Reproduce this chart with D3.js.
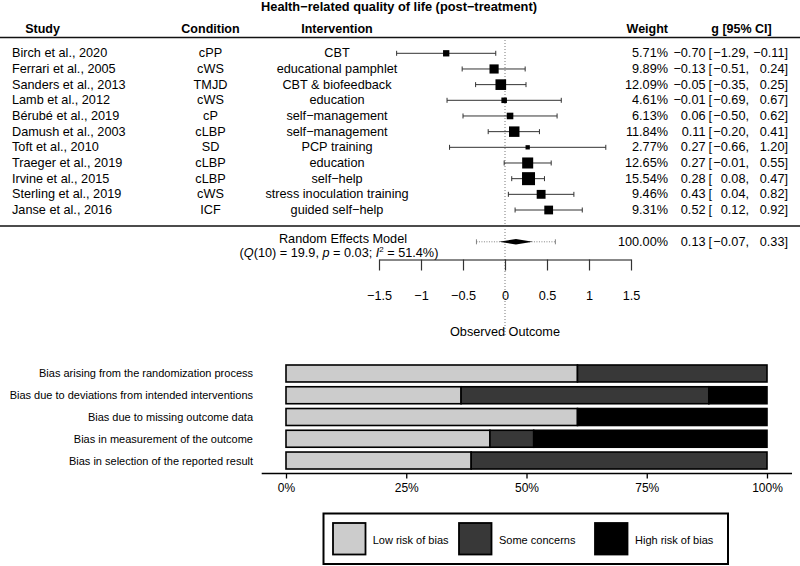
<!DOCTYPE html>
<html><head><meta charset="utf-8">
<script src="https://cdn.jsdelivr.net/npm/d3@7"></script>
<style>
html,body{margin:0;padding:0;background:#fff;}
svg{display:block;font-family:"Liberation Sans",Arial,Helvetica,sans-serif;}
</style></head>
<body><svg id="chart" width="800" height="566"></svg>
<script>
// ---------- DATA ----------
const title = "Health\u2212related quality of life (post\u2212treatment)";
const studies = ["Birch et al., 2020","Ferrari et al., 2005","Sanders et al., 2013","Lamb et al., 2012","Bérubé et al., 2019","Damush et al., 2003","Toft et al., 2010","Traeger et al., 2019","Irvine et al., 2015","Sterling et al., 2019","Janse et al., 2016"];
const conditions = ["cPP","cWS","TMJD","cWS","cP","cLBP","SD","cLBP","cLBP","cWS","ICF"];
const interventions = ["CBT","educational pamphlet","CBT & biofeedback","education","self\u2212management","self\u2212management","PCP training","education","self\u2212help","stress inoculation training","guided self\u2212help"];
const weights = [5.71,9.89,12.09,4.61,6.13,11.84,2.77,12.65,15.54,9.46,9.31];
const estimates = [-0.70,-0.13,-0.05,-0.01,0.06,0.11,0.27,0.27,0.28,0.43,0.52];
const lowers = [-1.29,-0.51,-0.35,-0.69,-0.50,-0.20,-0.66,-0.01,0.08,0.04,0.12];
const uppers = [-0.11,0.24,0.25,0.67,0.62,0.41,1.20,0.55,0.47,0.82,0.92];
const modelLabel = "Random Effects Model";
const modelEst = 0.13, modelLower = -0.07, modelUpper = 0.33;
const modelPILower = -0.34, modelPIUpper = 0.60;
const modelWeight = 100.00;
const forestTicks = [-1.5,-1,-0.5,0,0.5,1,1.5];
const forestXLabel = "Observed Outcome";

const biasDomains = ["Bias arising from the randomization process","Bias due to deviations from intended interventions","Bias due to missing outcome data","Bias in measurement of the outcome","Bias in selection of the reported result"];
const biasLevels = ["Low risk of bias","Some concerns","High risk of bias"];
const biasLow = [60.6,36.4,60.6,42.4,38.5];
const biasSome = [39.4,51.5,0,9.1,61.5];
const biasHigh = [0,12.1,39.4,48.5,0];
const biasTicks = [0,25,50,75,100];
const biasColors = ["#cccccc","#383838","#000000"];

// ---------- HELPERS ----------
const minus = s => s.replace(/-/g,"\u2212");
const f2 = v => minus(v.toFixed(2));

const svg = d3.select("#chart");
const FS = 12.7;

// ---------- FOREST ----------
const x = d3.scaleLinear().domain([-1.5,1.5]).range([379,631]);
const y = d3.scalePoint().domain(d3.range(studies.length)).range([53.3,210]);
const sz = d3.scaleLinear().domain(d3.extent(weights)).range([4.3,13]);

svg.append("text").attr("x",399).attr("y",6).attr("text-anchor","middle")
  .attr("dominant-baseline","central").attr("font-weight","bold").attr("font-size",12.8).text(title);

const headers = [
  {t:"Study",x:42.5,a:"middle"},
  {t:"Condition",x:210.5,a:"middle"},
  {t:"Intervention",x:337,a:"middle"},
  {t:"Weight",x:668,a:"end"},
  {t:"g [95% CI]",x:741.5,a:"middle"}
];
svg.selectAll("text.hdr").data(headers).join("text").attr("class","hdr")
  .attr("x",d=>d.x).attr("y",29).attr("text-anchor",d=>d.a)
  .attr("dominant-baseline","central").attr("font-weight","bold").attr("font-size",12.5).text(d=>d.t);

svg.append("line").attr("x1",0).attr("x2",800).attr("y1",37.5).attr("y2",37.5).attr("stroke","#111").attr("stroke-width",1.5);
svg.append("line").attr("x1",0).attr("x2",800).attr("y1",226).attr("y2",226).attr("stroke","#111").attr("stroke-width",1.5);

// reference line at 0
svg.append("line").attr("x1",x(0)).attr("x2",x(0)).attr("y1",40).attr("y2",337)
  .attr("stroke","#555").attr("stroke-width",0.8).attr("stroke-dasharray","1,2");

function ciText(g, yy, w, est, lo, up){
  g.append("text").attr("x",668).attr("y",yy).attr("text-anchor","end").attr("dominant-baseline","central").attr("font-size",FS).text(w);
  g.append("text").attr("x",705.5).attr("y",yy).attr("text-anchor","end").attr("dominant-baseline","central").attr("font-size",FS).text(f2(est));
  g.append("text").attr("x",708.5).attr("y",yy).attr("dominant-baseline","central").attr("font-size",FS).text("[");
  g.append("text").attr("x",749).attr("y",yy).attr("text-anchor","end").attr("dominant-baseline","central").attr("font-size",FS).text(f2(lo)+",");
  g.append("text").attr("x",788).attr("y",yy).attr("text-anchor","end").attr("dominant-baseline","central").attr("font-size",FS).text(f2(up)+"]");
}

const rowG = svg.append("g");
studies.forEach((s,i)=>{
  const g = rowG.append("g");
  const yy = y(i);
  g.append("text").attr("x",12).attr("y",yy).attr("dominant-baseline","central").attr("font-size",FS).text(studies[i]);
  g.append("text").attr("x",210.5).attr("y",yy).attr("text-anchor","middle").attr("dominant-baseline","central").attr("font-size",FS).text(conditions[i]);
  g.append("text").attr("x",337).attr("y",yy).attr("text-anchor","middle").attr("dominant-baseline","central").attr("font-size",FS).text(interventions[i]);
  ciText(g, yy, weights[i].toFixed(2)+"%", estimates[i], lowers[i], uppers[i]);
  g.append("line").attr("x1",x(lowers[i])).attr("x2",x(uppers[i])).attr("y1",yy).attr("y2",yy).attr("stroke","#333").attr("stroke-width",1);
  [lowers[i],uppers[i]].forEach(v=>g.append("line").attr("x1",x(v)).attr("x2",x(v)).attr("y1",yy-2.5).attr("y2",yy+2.5).attr("stroke","#333").attr("stroke-width",1));
  const s2 = sz(weights[i]);
  g.append("rect").attr("x",x(estimates[i])-s2/2).attr("y",yy-s2/2).attr("width",s2).attr("height",s2).attr("fill","#000");
});

// model row
const my = 241.8;
svg.append("text").attr("x",343).attr("y",239).attr("text-anchor","middle").attr("dominant-baseline","central").attr("font-size",FS).text(modelLabel);
const qt = svg.append("text").attr("x",339).attr("y",253).attr("text-anchor","middle").attr("dominant-baseline","central").attr("font-size",FS);
qt.append("tspan").text("(");
qt.append("tspan").attr("font-style","italic").text("Q");
qt.append("tspan").text("(10) = 19.9, ");
qt.append("tspan").attr("font-style","italic").text("p");
qt.append("tspan").text(" = 0.03; ");
qt.append("tspan").attr("font-style","italic").text("I");
qt.append("tspan").attr("font-size",8).attr("dy",-3.8).text("2");
qt.append("tspan").attr("dy",3.8).text(" = 51.4%)");

svg.append("line").attr("x1",x(modelPILower)).attr("x2",x(modelPIUpper)).attr("y1",my).attr("y2",my)
  .attr("stroke","#666").attr("stroke-width",0.8).attr("stroke-dasharray","1,1.5");
[modelPILower,modelPIUpper].forEach(v=>svg.append("line").attr("x1",x(v)).attr("x2",x(v)).attr("y1",my-2.5).attr("y2",my+2.5).attr("stroke","#666").attr("stroke-width",0.8));
svg.append("polygon").attr("points",[[x(modelLower),my],[x(modelEst),my-2.8],[x(modelUpper),my],[x(modelEst),my+2.8]].map(p=>p.join(",")).join(" ")).attr("fill","#000");
ciText(svg.append("g"), my, modelWeight.toFixed(2)+"%", modelEst, modelLower, modelUpper);

// forest axis
const fAxis = svg.append("g").attr("transform","translate(0,259.5)")
  .call(d3.axisBottom(x).tickValues(forestTicks).tickSize(11).tickSizeOuter(0).tickPadding(20)
    .tickFormat(d=>minus(String(d))));
fAxis.select(".domain").attr("stroke","#111").attr("stroke-width",1);
fAxis.selectAll(".tick line").attr("stroke","#333").attr("stroke-width",1.2);
fAxis.selectAll("text").attr("font-size",FS).attr("font-family","Liberation Sans, Arial, sans-serif").attr("fill","#000");
svg.append("text").attr("x",x(0)).attr("y",332).attr("text-anchor","middle").attr("dominant-baseline","central").attr("font-size",FS).text(forestXLabel);

// ---------- RISK OF BIAS ----------
const bx = d3.scaleLinear().domain([0,100]).range([286,767]);
const by = d3.scaleBand().domain(biasDomains).range([365,469]).paddingInner(0.22).paddingOuter(0);
const stackData = biasDomains.map((d,i)=>({domain:d, low:biasLow[i], some:biasSome[i], high:biasHigh[i]}));
const stack = d3.stack().keys(["low","some","high"])(stackData);

svg.selectAll("text.blab").data(biasDomains).join("text").attr("class","blab")
  .attr("x",253).attr("y",d=>by(d)+by.bandwidth()/2).attr("text-anchor","end")
  .attr("dominant-baseline","central").attr("font-size",11).text(d=>d);

svg.append("g").selectAll("g").data(stack).join("g").attr("fill",(d,i)=>biasColors[i])
  .selectAll("rect").data(d=>d.filter(s=>s[1]-s[0]>0)).join("rect")
  .attr("x",d=>bx(d[0])).attr("width",d=>bx(d[1])-bx(d[0]))
  .attr("y",d=>by(d.data.domain)).attr("height",by.bandwidth())
  .attr("stroke","#000").attr("stroke-width",1.6);

const bAxis = svg.append("g").attr("transform","translate(0,473.5)")
  .call(d3.axisBottom(bx).tickValues(biasTicks).tickSize(5).tickSizeOuter(0).tickPadding(5).tickFormat(d=>d+"%"));
bAxis.select(".domain").attr("d","M261.7,0H792").attr("stroke","#000").attr("stroke-width",1.3);
bAxis.selectAll(".tick line").attr("stroke","#000").attr("stroke-width",1.3);
bAxis.selectAll("text").attr("font-size",12).attr("font-family","Liberation Sans, Arial, sans-serif").attr("fill","#000");

// legend
const lg = svg.append("g");
lg.append("rect").attr("x",323.5).attr("y",513.5).attr("width",404.5).attr("height",50.5).attr("fill","#fff").attr("stroke","#000").attr("stroke-width",2);
const legX = [333,459,595];
const legTX = [372.7,499,635];
biasLevels.forEach((l,i)=>{
  lg.append("rect").attr("x",legX[i]).attr("y",523).attr("width",32.5).attr("height",31.5).attr("fill",biasColors[i]).attr("stroke","#000").attr("stroke-width",1.8);
  lg.append("text").attr("x",legTX[i]).attr("y",540).attr("dominant-baseline","central").attr("font-size",11).text(l);
});
</script></body></html>
